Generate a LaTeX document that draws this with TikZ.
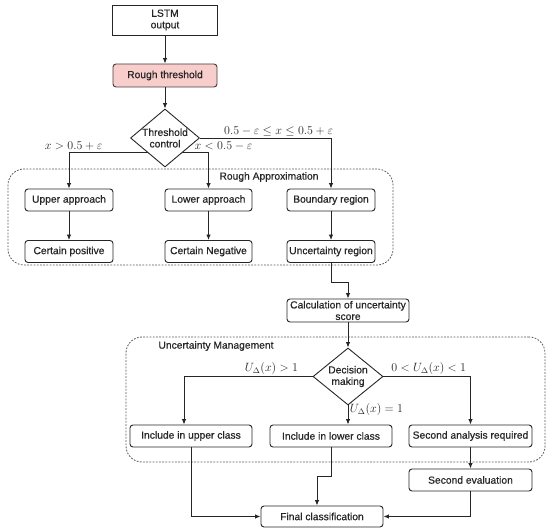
\documentclass[tikz,border=0pt]{standalone}
\usepackage{fontspec}
\setmainfont{Liberation Sans}[FakeBold=0.6]
\usetikzlibrary{arrows.meta,shapes.geometric}
\definecolor{pinkfill}{HTML}{F8CECC}
\definecolor{pinkdraw}{HTML}{4A3A3A}
\definecolor{ink}{HTML}{262626}
\begin{document}
\begin{tikzpicture}[x=1pt,y=-1pt,
  txt/.style={font=\fontsize{10.3}{11.5}\selectfont,text=ink},
  box/.style={txt,draw=ink,line width=0.9pt,rounded corners=3pt,align=center,inner sep=1pt},
  dec/.style={draw=ink,line width=0.9pt,diamond,inner sep=0pt},
  grp/.style={draw=black!65,line width=0.8pt,dash pattern=on 1.8pt off 1.4pt,rounded corners=16pt,inner sep=0pt},
  arr/.style={draw=ink,line width=0.9pt,-{Latex[length=5.5pt,width=4.5pt]}},
  lab/.style={font=\fontsize{11.5}{13}\selectfont,text=ink,inner sep=1.5pt},
]
\useasboundingbox (0,0) rectangle (550,532);
% containers
\node[grp,minimum width=385,minimum height=96] (ra) at (200.5,217) {};
\node[txt,inner sep=0pt] (ratxt) at (269,177) {Rough Approximation};
\node[grp,minimum width=419,minimum height=125] (um) at (335.5,399.5) {};
\node[txt,inner sep=0pt] (umtxt) at (216,346) {Uncertainty Management};
% nodes
\node[box,rounded corners=0pt,minimum width=105,minimum height=30] (lstm) at (165,20) {LSTM\\output};
\node[box,fill=pinkfill,draw=pinkdraw,minimum width=104,minimum height=23] (rough) at (165,75.5) {Rough threshold};
\node[dec,minimum width=69,minimum height=58,label={[txt,align=center]center:Threshold\\control}] (thr) at (165,138) {};
\node[box,minimum width=88,minimum height=22] (upa) at (69,200) {Upper approach};
\node[box,minimum width=87,minimum height=22] (lwa) at (208.5,200) {Lower approach};
\node[box,minimum width=88,minimum height=22] (bnd) at (331,200) {Boundary region};
\node[box,minimum width=88,minimum height=22] (cpos) at (69,251.5) {Certain positive};
\node[box,minimum width=87,minimum height=22] (cneg) at (208.5,251.5) {Certain Negative};
\node[box,minimum width=88,minimum height=22] (unc) at (331,251.5) {Uncertainty region};
\node[box,minimum width=122,minimum height=23] (calc) at (348,310.5) {Calculation of uncertainty\\score};
\node[dec,minimum width=70,minimum height=57,label={[txt,align=center]center:Decision\\making}] (dm) at (348,376.5) {};
\node[box,minimum width=122,minimum height=22] (upc) at (191,436) {Include in upper class};
\node[box,minimum width=122,minimum height=22] (low) at (331,436) {Include in lower class};
\node[box,minimum width=123,minimum height=22] (sec) at (470.5,436) {Second analysis required};
\node[box,minimum width=123,minimum height=22] (eval) at (470.5,480) {Second evaluation};
\node[box,minimum width=122,minimum height=21] (fin) at (322,516.5) {Final classification};
% connectors
\draw[arr] (lstm) -- (rough);
\draw[arr] (rough) -- (thr);
\draw[arr] (thr.east) -| node[lab,pos=0.3,above] {$0.5-\varepsilon\leq x\leq 0.5+\varepsilon$} (bnd);
\draw[arr] (thr.south west) -| node[lab,pos=0.47,above] {$x>0.5+\varepsilon$} (upa);
\draw[arr] (thr.south east) -| node[lab,pos=0.5,anchor=south,xshift=15pt] {$x<0.5-\varepsilon$} (lwa);
\draw[arr] (upa) -- (cpos);
\draw[arr] (lwa) -- (cneg);
\draw[arr] (bnd) -- (unc);
\draw[arr] (unc.south) -- ++(0,20) -| (calc.north);
\draw[arr] (calc) -- (dm);
\draw[arr] (dm.west) -| node[lab,pos=0.16,above] {$U_\Delta(x)>1$} ([xshift=-7pt]upc.north);
\draw[arr] (dm.east) -| node[lab,pos=0.26,above] {$0<U_\Delta(x)<1$} (sec.north);
\draw[arr] (dm.south) -- node[lab,pos=0.2,right] {$U_\Delta(x)=1$} (dm.south |- low.north);
\draw[arr] (sec) -- (eval);
\draw[arr] (upc.south) |- (fin.west);
\draw[arr] (low.south) -- ++(0,29) -| ([xshift=-5pt]fin.north);
\draw[arr] (eval.south) |- (fin.east);
\end{tikzpicture}
\end{document}
